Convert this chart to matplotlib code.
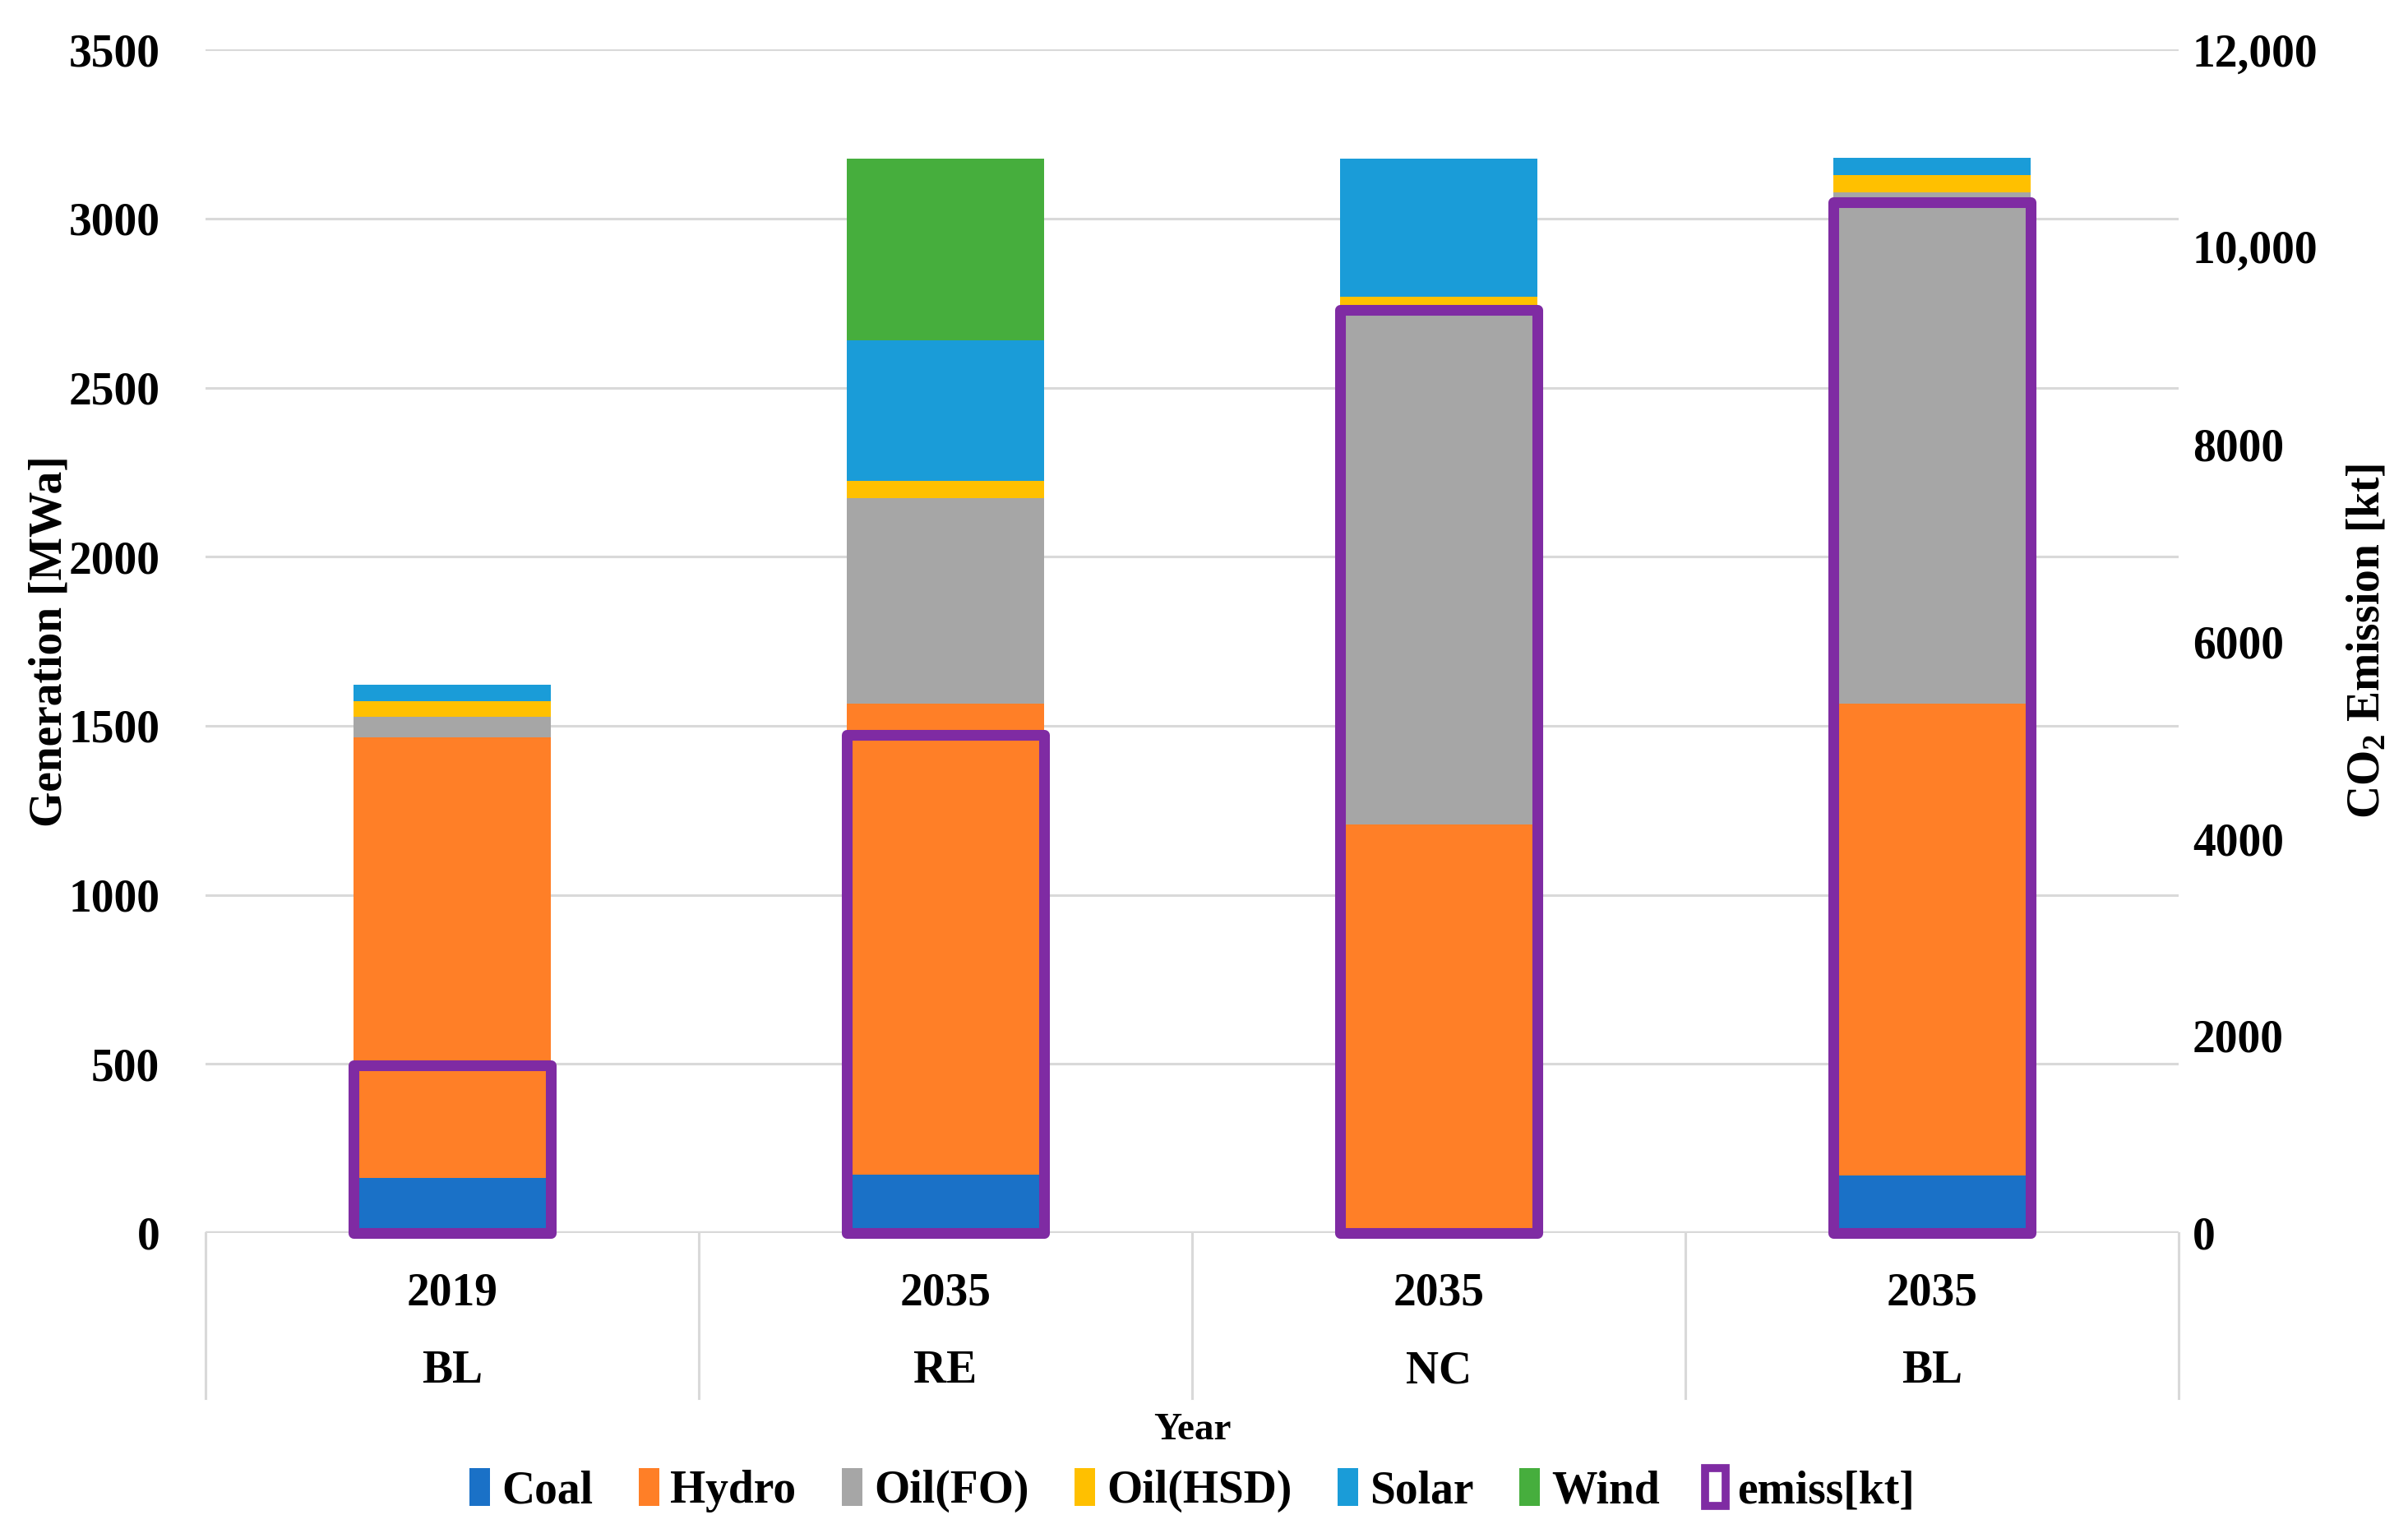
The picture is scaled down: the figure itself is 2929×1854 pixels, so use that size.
import numpy as np
import matplotlib
matplotlib.use("Agg")
import matplotlib.pyplot as plt
from matplotlib.patches import Patch
from matplotlib.transforms import blended_transform_factory

plt.rcParams['font.family'] = ['Liberation Serif', 'DejaVu Serif']
plt.rcParams['font.weight'] = 'bold'
plt.rcParams['axes.labelweight'] = 'bold'
plt.rcParams['mathtext.fontset'] = 'custom'
plt.rcParams['mathtext.rm'] = 'Liberation Serif:bold'
plt.rcParams['mathtext.bf'] = 'Liberation Serif:bold'
plt.rcParams['mathtext.default'] = 'bf'

# data (MWa per source, emissions in kt)
years = ['2019', '2035', '2035', '2035']
scenarios = ['BL', 'RE', 'NC', 'BL']
coal = [163, 173, 0, 170]
hydro = [1302, 1392, 1207, 1395]
oil_fo = [61, 609, 1518, 1512]
oil_hsd = [47, 50, 45, 51]
solar = [49, 416, 408, 51]
wind = [0, 538, 0, 0]
emiss = [1700, 5050, 9360, 10450]

sources = ['Coal', 'Hydro', 'Oil(FO)', 'Oil(HSD)', 'Solar', 'Wind']
colors = ['#1A71C7', '#FF7F27', '#A6A6A6', '#FFC000', '#1A9CD8', '#46AE3D']
emiss_color = '#7F2BA3'

left_ticks = [0, 500, 1000, 1500, 2000, 2500, 3000, 3500]
right_ticks = [0, 2000, 4000, 6000, 8000, 10000, 12000]
right_tick_labels = ['0', '2000', '4000', '6000', '8000', '10,000', '12,000']

fig = plt.figure(figsize=(14.645, 9.27), dpi=200)
ax = fig.add_axes([0.0853, 0.191, 0.8195, 0.7765])
ax2 = ax.twinx()

x = np.arange(len(years))
width = 0.4
bottom = np.zeros(len(years))
for vals, name, c in zip([coal, hydro, oil_fo, oil_hsd, solar, wind], sources, colors):
    ax.bar(x, vals, width, bottom=bottom, color=c, label=name, zorder=3, linewidth=0)
    bottom += np.array(vals)

# emissions drawn as outlined boxes on the secondary axis
ax2.bar(x, emiss, width, facecolor='none', edgecolor=emiss_color, linewidth=4.7,
        joinstyle='round', clip_on=False, zorder=4)

ax.set_xlim(-0.5, 3.5)
ax.set_ylim(0, 3500)
ax2.set_ylim(0, 12000)
ax.set_yticks(left_ticks)
ax.set_yticklabels([str(t) for t in left_ticks])
ax2.set_yticks(right_ticks)
ax2.set_yticklabels(right_tick_labels)

ax.grid(axis='y', color='#D9D9D9', linewidth=1.1, zorder=0)
ax.set_axisbelow(True)
for a in (ax, ax2):
    for s in ['top', 'left', 'right', 'bottom']:
        a.spines[s].set_visible(False)
ax.axhline(0, color='#D9D9D9', linewidth=1.6, zorder=1)

ax.tick_params(axis='y', length=0, labelsize=20, pad=20)
ax2.tick_params(axis='y', length=0, labelsize=20, pad=6)
ax.tick_params(axis='x', length=0, labelbottom=False)

# multi-level category axis
trans = blended_transform_factory(ax.transData, ax.transAxes)
for xs in np.arange(-0.5, 4.0, 1.0):
    ax.plot([xs, xs], [0, -0.14], transform=trans, color='#D9D9D9',
            linewidth=1.1, clip_on=False)
for i in range(len(years)):
    ax.text(x[i], -0.051, years[i], transform=trans, ha='center', va='center', fontsize=20)
    ax.text(x[i], -0.117, scenarios[i], transform=trans, ha='center', va='center', fontsize=20)
ax.text(1.5, -0.167, 'Year', transform=trans, ha='center', va='center', fontsize=17)

ax.set_ylabel('Generation [MWa]', fontsize=20)
ax.yaxis.set_label_coords(-0.068, 0.5)
ax2.set_ylabel('CO$_2$ Emission [kt]', fontsize=20)
ax2.yaxis.set_label_coords(1.085, 0.5)

handles, labels = ax.get_legend_handles_labels()
handles.append(Patch(facecolor='white', edgecolor=emiss_color, linewidth=3.5))
labels.append('emiss[kt]')
fig.legend(handles, labels, loc='center', bbox_to_anchor=(0.495, 0.022), ncol=7,
           frameon=False, fontsize=20, handlelength=0.45, handleheight=0.9,
           handletextpad=0.25, columnspacing=1.0)

fig.savefig('out.png', dpi=200)
